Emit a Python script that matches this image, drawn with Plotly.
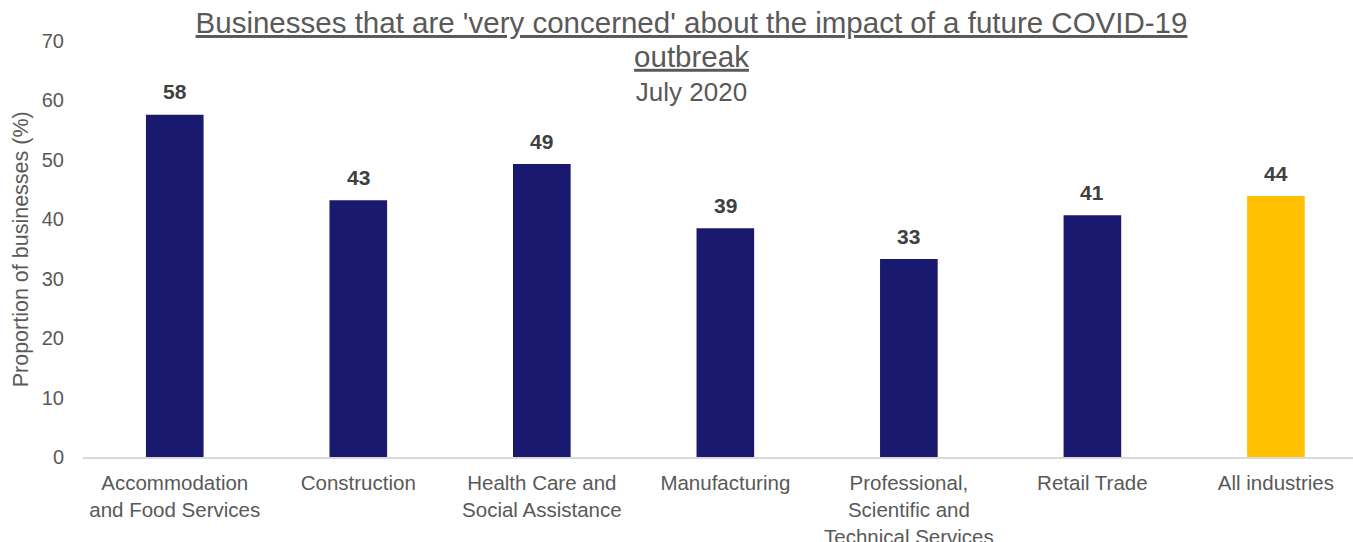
import plotly.graph_objects as go

categories = [
    "Accommodation<br>and Food Services",
    "Construction",
    "Health Care and<br>Social Assistance",
    "Manufacturing",
    "Professional,<br>Scientific and<br>Technical Services",
    "Retail Trade",
    "All industries",
]
values = [57.6, 43.2, 49.3, 38.5, 33.3, 40.7, 43.9]
labels = ["58", "43", "49", "39", "33", "41", "44"]
colors = ["#191970"] * 6 + ["#FFC000"]

FONT = "Liberation Sans, Arial, sans-serif"
GREY = "#595959"

W, H = 1353, 542
ML, MR, MT, MB = 82.7, 0, 40.5, 84.5

fig = go.Figure()
fig.add_trace(go.Bar(
    x=categories, y=values, marker=dict(color=colors, line=dict(width=0)),
    width=0.314, hoverinfo="skip",
))

for c, v, t in zip(categories, values, labels):
    fig.add_annotation(x=c, y=v, text=f"<b>{t}</b>", showarrow=False,
                       yanchor="middle", yshift=23,
                       font=dict(family=FONT, size=21, color="#404040"))

fig.add_annotation(xref="paper", yref="paper", x=(21 - ML) / (W - ML - MR), y=0.5,
                   text="Proportion of businesses (%)", textangle=-90, showarrow=False,
                   xanchor="center", yanchor="middle",
                   font=dict(family=FONT, size=21.5, color=GREY))

big = "<span style='font-size:29.5px'><u>{}</u></span>"
title_text = (big.format("Businesses that are 'very concerned' about the impact of a future COVID-19")
              + "<br>" + big.format("outbreak") + "<br>July 2020")

fig.update_layout(
    width=W, height=H,
    margin=dict(l=ML, r=MR, t=MT, b=MB, pad=0, autoexpand=False),
    paper_bgcolor="white", plot_bgcolor="white",
    showlegend=False,
    title=dict(
        text=title_text,
        x=691.5 / W, xanchor="center", xref="container",
        y=1 - 33 / H, yanchor="top", yref="container",
        font=dict(family=FONT, size=26, color=GREY),
    ),
    xaxis=dict(
        type="category", range=[-0.5, 6.42],
        showline=True, linecolor="#d9d9d9", linewidth=1.5,
        ticks="", showgrid=False, zeroline=False,
        tickfont=dict(family=FONT, size=20.5, color=GREY),
        ticklabelstandoff=7,
    ),
    yaxis=dict(
        range=[0, 70], dtick=10, showgrid=False, zeroline=False, showline=False,
        ticks="", tickfont=dict(family=FONT, size=20, color=GREY),
        ticklabelstandoff=18,
    ),
)

fig.write_html("out.html")
